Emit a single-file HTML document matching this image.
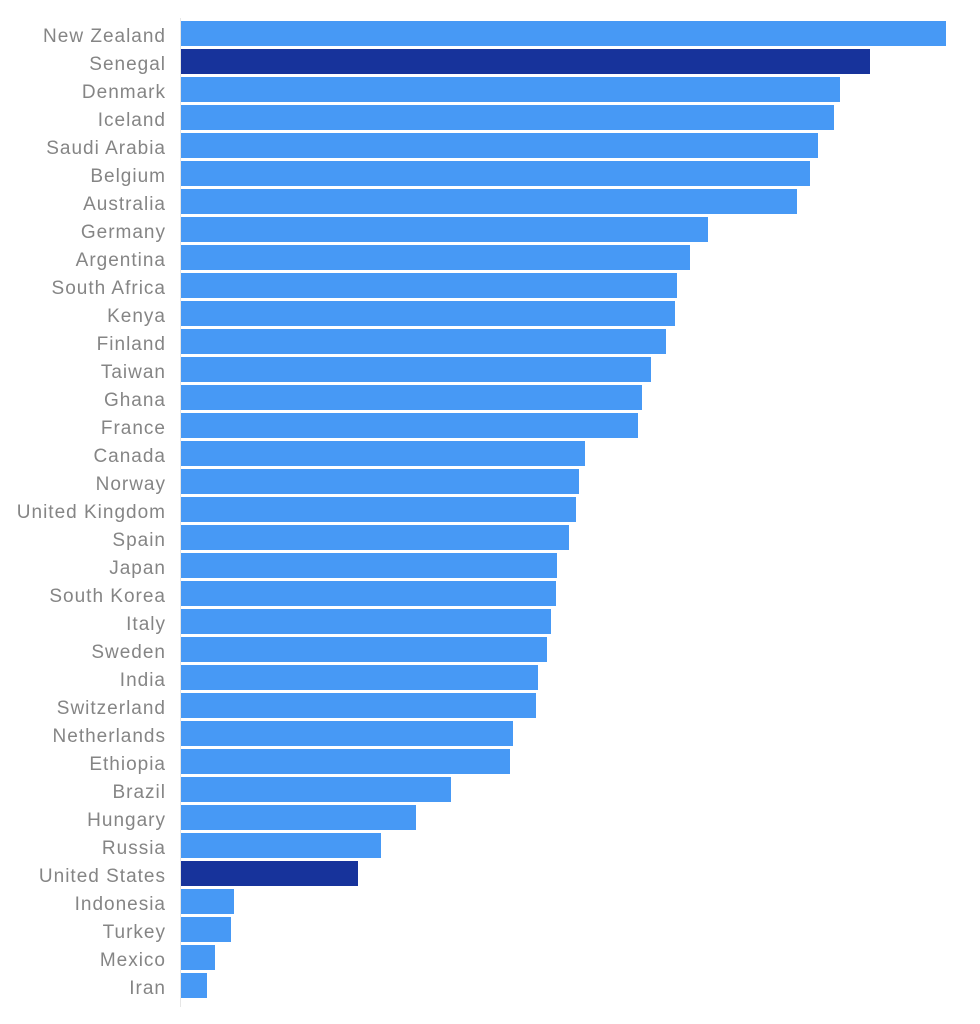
<!DOCTYPE html>
<html>
<head>
<meta charset="utf-8">
<style>
  html,body{margin:0;padding:0;background:#fff;}
  svg{display:block;}
  text{font-family:"Liberation Sans",sans-serif;font-size:19px;fill:#858585;letter-spacing:1px;}
</style>
</head>
<body>
<svg width="980" height="1024" viewBox="0 0 980 1024" xmlns="http://www.w3.org/2000/svg">
  <rect width="980" height="1024" fill="#fff"/>
  <line x1="180.5" y1="18" x2="180.5" y2="1007" stroke="#e6e6e6" stroke-width="1"/>
  <g fill="#4799f5">
    <rect x="181" y="21" width="765" height="25"/>
    <rect x="181" y="77" width="659" height="25"/>
    <rect x="181" y="105" width="653" height="25"/>
    <rect x="181" y="133" width="637" height="25"/>
    <rect x="181" y="161" width="629" height="25"/>
    <rect x="181" y="189" width="616" height="25"/>
    <rect x="181" y="217" width="527" height="25"/>
    <rect x="181" y="245" width="509" height="25"/>
    <rect x="181" y="273" width="496" height="25"/>
    <rect x="181" y="301" width="494" height="25"/>
    <rect x="181" y="329" width="485" height="25"/>
    <rect x="181" y="357" width="470" height="25"/>
    <rect x="181" y="385" width="461" height="25"/>
    <rect x="181" y="413" width="457" height="25"/>
    <rect x="181" y="441" width="404" height="25"/>
    <rect x="181" y="469" width="398" height="25"/>
    <rect x="181" y="497" width="395" height="25"/>
    <rect x="181" y="525" width="388" height="25"/>
    <rect x="181" y="553" width="376" height="25"/>
    <rect x="181" y="581" width="375" height="25"/>
    <rect x="181" y="609" width="370" height="25"/>
    <rect x="181" y="637" width="366" height="25"/>
    <rect x="181" y="665" width="357" height="25"/>
    <rect x="181" y="693" width="355" height="25"/>
    <rect x="181" y="721" width="332" height="25"/>
    <rect x="181" y="749" width="329" height="25"/>
    <rect x="181" y="777" width="270" height="25"/>
    <rect x="181" y="805" width="235" height="25"/>
    <rect x="181" y="833" width="200" height="25"/>
    <rect x="181" y="889" width="53" height="25"/>
    <rect x="181" y="917" width="50" height="25"/>
    <rect x="181" y="945" width="34" height="25"/>
    <rect x="181" y="973" width="26" height="25"/>
  </g>
  <g fill="#17339b">
    <rect x="181" y="49" width="689" height="25"/>
    <rect x="181" y="861" width="177" height="25"/>
  </g>
  <g text-anchor="end">
    <text x="166" y="42">New Zealand</text>
    <text x="166" y="70">Senegal</text>
    <text x="166" y="98">Denmark</text>
    <text x="166" y="126">Iceland</text>
    <text x="166" y="154">Saudi Arabia</text>
    <text x="166" y="182">Belgium</text>
    <text x="166" y="210">Australia</text>
    <text x="166" y="238">Germany</text>
    <text x="166" y="266">Argentina</text>
    <text x="166" y="294">South Africa</text>
    <text x="166" y="322">Kenya</text>
    <text x="166" y="350">Finland</text>
    <text x="166" y="378">Taiwan</text>
    <text x="166" y="406">Ghana</text>
    <text x="166" y="434">France</text>
    <text x="166" y="462">Canada</text>
    <text x="166" y="490">Norway</text>
    <text x="166" y="518">United Kingdom</text>
    <text x="166" y="546">Spain</text>
    <text x="166" y="574">Japan</text>
    <text x="166" y="602">South Korea</text>
    <text x="166" y="630">Italy</text>
    <text x="166" y="658">Sweden</text>
    <text x="166" y="686">India</text>
    <text x="166" y="714">Switzerland</text>
    <text x="166" y="742">Netherlands</text>
    <text x="166" y="770">Ethiopia</text>
    <text x="166" y="798">Brazil</text>
    <text x="166" y="826">Hungary</text>
    <text x="166" y="854">Russia</text>
    <text x="166" y="882">United States</text>
    <text x="166" y="910">Indonesia</text>
    <text x="166" y="938">Turkey</text>
    <text x="166" y="966">Mexico</text>
    <text x="166" y="994">Iran</text>
  </g>
</svg>
</body>
</html>
